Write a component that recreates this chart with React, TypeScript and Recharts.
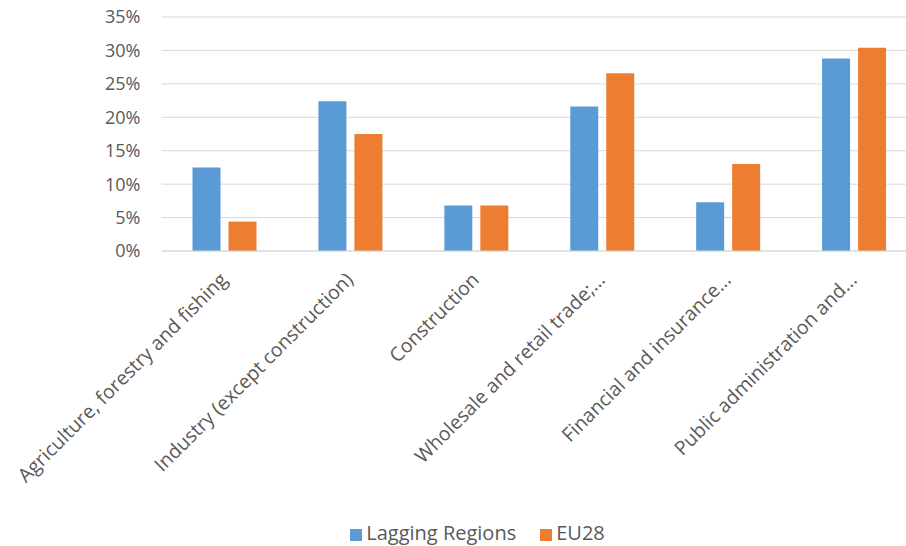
import { BarChart, Bar, XAxis, YAxis, CartesianGrid, Legend } from 'recharts'

const sectors = [
  'Agriculture, forestry and fishing',
  'Industry (except construction)',
  'Construction',
  'Wholesale and retail trade;...',
  'Financial and insurance...',
  'Public administration and...',
]
const lagging = [12.5, 22.4, 6.8, 21.6, 7.3, 28.8]
const eu28 = [4.4, 17.5, 6.8, 26.6, 13.0, 30.4]
const yTicks = [0, 5, 10, 15, 20, 25, 30, 35]
const seriesOrder = ['lagging', 'eu28']

const data = sectors.map((name, i) => ({ name, lagging: lagging[i], eu28: eu28[i] }))

const FONT = '"Open Sans", sans-serif'
const GREY = '#595959'

function SectorTick(props: any) {
  const { x, y, payload } = props
  return (
    <text
      x={x + 4}
      y={y + 22}
      transform={`rotate(-45, ${x + 4}, ${y + 22})`}
      textAnchor="end"
      fill={GREY}
      fontSize={19.5}
      fontFamily={FONT}
    >
      {payload.value}
    </text>
  )
}

export default function App() {
  return (
    <div style={{ position: 'fixed', left: 0, top: 0, width: 906, height: 546, overflow: 'hidden', background: '#fff' }}>
      <BarChart
        width={930}
        height={546}
        data={data}
        margin={{ top: 17, right: 13, left: 0, bottom: 0 }}
        barSize={28}
        barGap={8}
        style={{ fontFamily: FONT }}
      >
        <CartesianGrid vertical={false} stroke="#d9d9d9" />
        <XAxis
          dataKey="name"
          interval={0}
          height={255}
          tick={<SectorTick />}
          tickLine={false}
          axisLine={{ stroke: '#d9d9d9' }}
        />
        <YAxis
          width={161.5}
          domain={[0, 35]}
          ticks={yTicks}
          tickFormatter={(v: number) => `${v}%`}
          axisLine={false}
          tickLine={false}
          tickMargin={15}
          tick={{ fill: GREY, fontSize: 18, fontFamily: FONT }}
        />
        <Legend
          verticalAlign="bottom"
          height={40}
          iconType="square"
          iconSize={12}
          itemSorter={(item: any) => seriesOrder.indexOf(item.dataKey)}
          wrapperStyle={{ top: 519, paddingLeft: 62, boxSizing: 'border-box', fontSize: 20, fontFamily: FONT }}
          formatter={(value: string) => <span style={{ color: GREY, paddingRight: 14 }}>{value}</span>}
        />
        <Bar dataKey="lagging" name="Lagging Regions" fill="#5b9bd5" isAnimationActive={false} />
        <Bar dataKey="eu28" name="EU28" fill="#ed7d31" isAnimationActive={false} />
      </BarChart>
    </div>
  )
}
